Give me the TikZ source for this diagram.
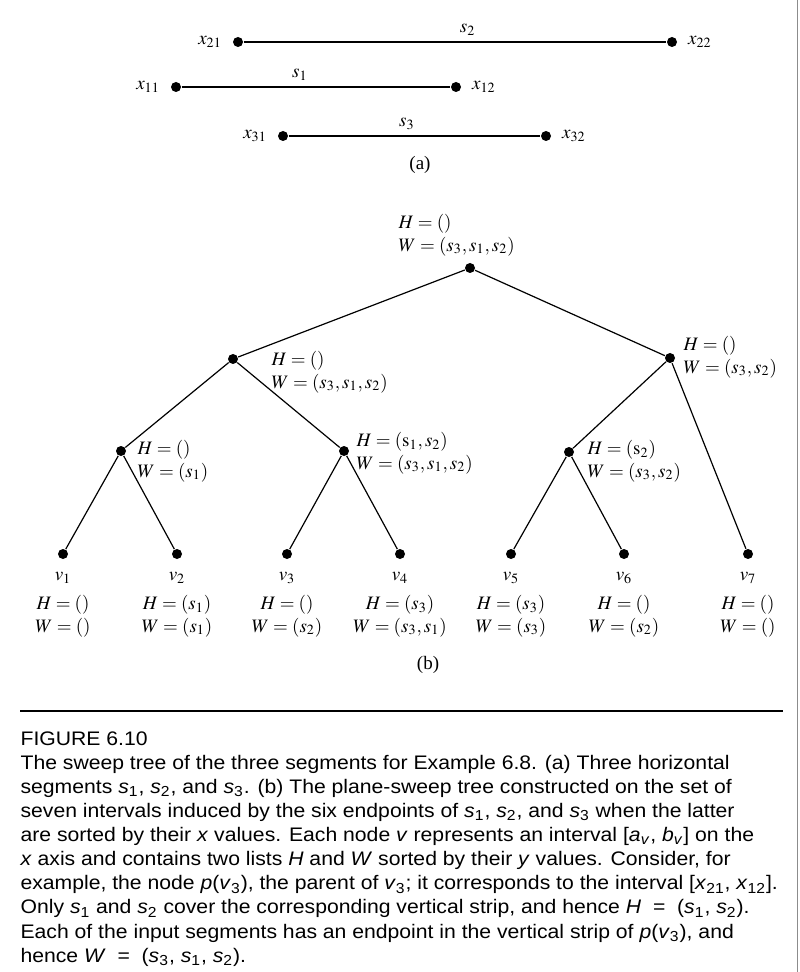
\documentclass[tikz,border=0pt]{standalone}
\usepackage{mathptmx}
\usepackage{fontspec}
\setmainfont{Liberation Serif}
\setsansfont[FakeStretch=1.08]{Liberation Sans}
\usetikzlibrary{positioning}
\newcommand\sv[1]{\textit{s}\textsubscript{#1}}
\newcommand\iv[1]{\textit{#1}}

\begin{document}
\begin{tikzpicture}[x=0.5pt,y=-0.5pt,line width=0.6pt,
  dot/.style={circle,fill,inner sep=0pt,minimum size=5pt},
  lab/.style={font=\fontsize{9.5}{11.3}\selectfont,inner sep=0pt},
  info/.style={lab,align=left,anchor=west},
  leaf/.style={lab,align=center}]
  \useasboundingbox (0,0) rectangle (799,972);
  \node[dot] (x21) at (238,42) {};
  \node[dot] (x22) at (672,42) {};
  \node[dot] (x11) at (176,87) {};
  \node[dot] (x12) at (456,87) {};
  \node[dot] (x31) at (283,136) {};
  \node[dot] (x32) at (546,136) {};
  \draw (x21) -- node[lab,pos=0.53,above=3pt]{$s_2$} (x22);
  \draw (x11) -- node[lab,pos=0.44,above=3pt]{$s_1$} (x12);
  \draw (x31) -- node[lab,pos=0.47,above=3pt]{$s_3$} (x32);
  \foreach \n in {21,11,31} \node[lab,left=5pt of x\n] {$x_{\n}$};
  \foreach \n in {22,12,32} \node[lab,right=5pt of x\n] {$x_{\n}$};
  \node[lab] (suba) at (420,165) {(a)};

  \node[dot] (p) at (470,268) {};
  \node[dot] (pl) at (233,359) {};
  \node[dot] (pr) at (670,358) {};
  \node[dot] (pll) at (121,451) {};
  \node[dot] (plr) at (344,451) {};
  \node[dot] (prl) at (569,452) {};
  \foreach \i/\x in {1/63,2/177,3/287,4/400,5/511,6/624,7/748}
    \node[dot] (v\i) at (\x,554) {};
  \draw (p) -- (pl) (p) -- (pr) (pl) -- (pll) (pl) -- (plr) (pr) -- (prl) (pr) -- (v7)
    (pll) -- (v1) (pll) -- (v2) (plr) -- (v3) (plr) -- (v4) (prl) -- (v5) (prl) -- (v6);
  \node[info] (pi) at (398,235) {$H = ()$\\$W = (s_3, s_1, s_2)$};
  \node[info] (pli) at (271,372) {$H = ()$\\$W = (s_3, s_1, s_2)$};
  \node[info] (pri) at (683,357) {$H = ()$\\$W = (s_3, s_2)$};
  \node[info] (plli) at (137,461) {$H = ()$\\$W = (s_1)$};
  \node[info] (plri) at (356,453) {$H = (\mathrm{s}_1, s_2)$\\$W = (s_3, s_1, s_2)$};
  \node[info] (prli) at (587,461) {$H = (\mathrm{s}_2)$\\$W = (s_3, s_2)$};
  \foreach \i/\x/\h/\w in {1/63/{()}/{()},2/177/{(s_1)}/{(s_1)},3/287/{()}/{(s_2)},
      4/400/{(s_3)}/{(s_3, s_1)},5/511/{(s_3)}/{(s_3)},6/624/{()}/{(s_2)},7/748/{()}/{()}} {
    \node[lab] (v\i n) at (\x,578) {$v_\i$};
    \node[leaf] (v\i t) at (\x,616) {$H = \h$\\$W = \w$};
  }
  \node[lab] (subb) at (428,665) {(b)};

  \draw (20,711) -- (783,711);
  \draw[black!45,line width=0.4pt] (797,0) -- (797,972);
  \node[font=\sffamily\fontsize{9.8}{12.05}\selectfont,align=left,anchor=north west,inner sep=0pt] (cap) at (20,731)
    {FIGURE 6.10\\
     The sweep tree of the three segments for Example 6.8. (a) Three horizontal\\
     segments \sv1, \sv2, and \sv3. (b) The plane-sweep tree constructed on the set of\\
     seven intervals induced by the six endpoints of \sv1, \sv2, and \sv3 when the latter\\
     are sorted by their \iv{x} values. Each node \iv{v} represents an interval [\iv{a}\textsubscript{\iv{v}}, \iv{b}\textsubscript{\iv{v}}] on the\\
     \iv{x} axis and contains two lists \iv{H} and \iv{W} sorted by their \iv{y} values. Consider, for\\
     example, the node \iv{p}(\iv{v}\textsubscript{3}), the parent of \iv{v}\textsubscript{3}; it corresponds to the interval [\iv{x}\textsubscript{21}, \iv{x}\textsubscript{12}].\\
     Only \sv1 and \sv2 cover the corresponding vertical strip, and hence \iv{H} \ = \ (\sv1, \sv2).\\
     Each of the input segments has an endpoint in the vertical strip of \iv{p}(\iv{v}\textsubscript{3}), and\\
     hence \iv{W} \ = \ (\sv3, \sv1, \sv2).};
\end{tikzpicture}
\end{document}
